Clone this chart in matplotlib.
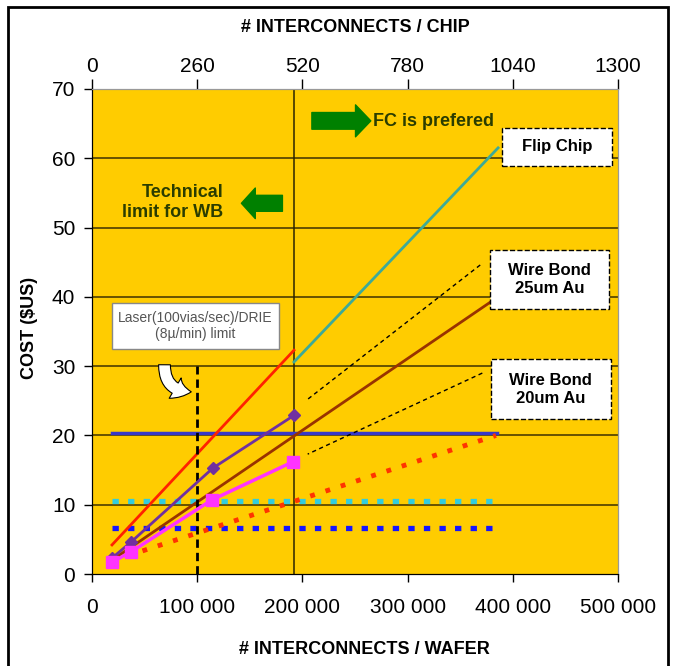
import matplotlib.pyplot as plt
from matplotlib.patches import Rectangle, FancyArrowPatch
from matplotlib.ticker import FuncFormatter

# data
wafer_ticks = [0, 100000, 200000, 300000, 400000, 500000]
chip_ticks = [0, 260, 520, 780, 1040, 1300]
cost_ticks = [0, 10, 20, 30, 40, 50, 60, 70]

red_x = [19000, 192000]
red_y = [4.2, 32.3]
fc_x = [192000, 386000]
fc_y = [30.6, 61.5]
wb25_x = [19000, 386000]
wb25_y = [2.0, 40.0]
purple_x = [19000, 37000, 115000, 192000]
purple_y = [2.3, 4.6, 15.3, 22.9]
magenta_x = [19000, 37000, 114000, 191000]
magenta_y = [1.7, 3.2, 10.7, 16.2]
reddot_x = [19000, 384000]
reddot_y = [1.9, 20.0]
flat_x = [19000, 385000]
navy_level = 20.4
cyan_level = 10.5
blue_level = 6.6
laser_limit = 100000
chip_limit = 192000

narrow = ['Liberation Sans Narrow', 'Liberation Sans', 'DejaVu Sans']
arial = ['Liberation Sans', 'DejaVu Sans']
dkgreen = '#2a3d00'

fig = plt.figure(figsize=(6.75, 6.66), dpi=100)
ax = fig.add_axes([0.1363, 0.1381, 0.9156 - 0.1363, 0.8664 - 0.1381])
ax.set_facecolor('#FFCC00')
ax.set_xlim(0, 500000)
ax.set_ylim(0, 70)

for v in cost_ticks[1:-1]:
    ax.axhline(v, color='#3d3100', lw=1.1, zorder=1)
ax.axvline(chip_limit, color='#2b2400', lw=1.1, zorder=1)

ax.plot(flat_x, [navy_level, navy_level], color='#3838C8', lw=2.5, zorder=3)
ax.plot(flat_x, [cyan_level, cyan_level], color='#33CCDD', lw=3.8,
        dashes=(1.2, 1.75), zorder=3)
ax.plot(flat_x, [blue_level, blue_level], color='#1515FF', lw=3.8,
        dashes=(1.2, 1.75), zorder=3)
ax.plot(reddot_x, reddot_y, color='#FF3300', lw=3.5, dashes=(1, 2.3), zorder=3)
ax.plot(red_x, red_y, color='#FF2200', lw=2, zorder=4)
ax.plot(fc_x, fc_y, color='#3DAA98', lw=2, zorder=4)
ax.plot(wb25_x, wb25_y, color='#993300', lw=2, zorder=4)
ax.plot(purple_x, purple_y, color='#7030A0', lw=2, marker='D', ms=6, zorder=5)
ax.plot(magenta_x, magenta_y, color='#FF33FF', lw=2.5, marker='s', ms=9, zorder=5)

ax.plot([laser_limit, laser_limit], [0, 30], color='black', lw=2,
        dashes=(3, 1.8), zorder=4)

# leader lines from the labels
ax.plot([369000, 204000], [44.6, 25.1], color='black', lw=1, dashes=(3, 2.5), zorder=4)
ax.plot([371000, 205000], [29.0, 17.3], color='black', lw=1, dashes=(3, 2.5), zorder=4)

# label boxes
def box(x0, x1, y0, y1, txt, ls='--', ec='black', fs=12, fam=arial, col='black', bold=True):
    ax.add_patch(Rectangle((x0, y0), x1 - x0, y1 - y0, fc='white', ec=ec,
                           lw=1, ls=ls, zorder=6))
    ax.text((x0 + x1) / 2, (y0 + y1) / 2, txt, ha='center', va='center',
            fontsize=fs, family=fam, color=col,
            fontweight='bold' if bold else 'normal', zorder=7, linespacing=1.25)

box(389700, 494300, 58.9, 64.4, 'Flip Chip')
box(378000, 491400, 38.2, 46.8, 'Wire Bond\n25um Au')
box(379000, 493000, 22.4, 31.0, 'Wire Bond\n20um Au')
box(19000, 177800, 32.5, 39.1, 'Laser(100vias/sec)/DRIE\n(8\u00b5/min) limit',
    ls='-', ec='#888888', fs=10, fam=narrow, col='#555555', bold=False)

# green arrows and notes
ax.annotate('', xy=(265000, 65.4), xytext=(209000, 65.4),
            arrowprops=dict(arrowstyle='simple,head_length=1.1,head_width=2.3,tail_width=1.2',
                            mutation_scale=10, color='#008000', shrinkA=0, shrinkB=0),
            zorder=6)
ax.text(267000, 65.3, 'FC is prefered', ha='left', va='center', fontsize=13,
        family=arial, fontweight='bold', color=dkgreen, zorder=6)
ax.annotate('', xy=(142000, 53.5), xytext=(181000, 53.5),
            arrowprops=dict(arrowstyle='simple,head_length=1.0,head_width=2.2,tail_width=1.15',
                            mutation_scale=10, color='#008000', shrinkA=0, shrinkB=0),
            zorder=6)
ax.text(125000, 53.6, 'Technical\nlimit for WB', ha='right', va='center',
        multialignment='right', fontsize=13, family=arial, fontweight='bold',
        color=dkgreen, zorder=6, linespacing=1.2)

# curved white arrow
curl = FancyArrowPatch((69000, 30.6), (97000, 26.3),
                       connectionstyle='arc3,rad=0.55',
                       arrowstyle='simple,head_length=0.7,head_width=1.0,tail_width=0.5',
                       mutation_scale=17, fc='white', ec='black', lw=0.8, zorder=6)
ax.add_patch(curl)

# axes
ax.set_xticks(wafer_ticks)
ax.xaxis.set_major_formatter(FuncFormatter(lambda v, p: f'{int(v):,}'.replace(',', ' ')))
ax.set_yticks(cost_ticks)
ax.tick_params(axis='x', direction='out', length=6, width=1, labelsize=15, pad=11)
ax.tick_params(axis='y', direction='out', length=6, width=1, labelsize=15, pad=6)
for lab in ax.get_xticklabels() + ax.get_yticklabels():
    lab.set_family(narrow)
for s in ['left', 'bottom']:
    ax.spines[s].set_color('black')
for s in ['top', 'right']:
    ax.spines[s].set_color('#999999')

top = ax.twiny()
top.set_xlim(0, 1300)
top.set_xticks(chip_ticks)
top.tick_params(axis='x', direction='out', length=7, width=1, labelsize=15, pad=2)
for lab in top.get_xticklabels():
    lab.set_family(narrow)
top.spines['top'].set_color('#999999')
top.spines['right'].set_color('#999999')

fig.text(0.527, 1 - 27 / 666, '# INTERCONNECTS / CHIP', ha='center', va='center',
         fontsize=13, family=narrow, fontweight='bold')
fig.text(0.54, 1 - 650 / 666, '# INTERCONNECTS / WAFER', ha='center', va='center',
         fontsize=13, family=narrow, fontweight='bold')
fig.text(30 / 675, 1 - 328 / 666, 'COST ($US)', ha='center', va='center',
         rotation=90, fontsize=13, family=narrow, fontweight='bold')

# outer frame
fig.patches.append(Rectangle((8 / 675, -0.01), 660 / 675, 1 - 7 / 666 + 0.01,
                             transform=fig.transFigure, fill=False, ec='black', lw=2))

fig.savefig('out.png', dpi=100)
